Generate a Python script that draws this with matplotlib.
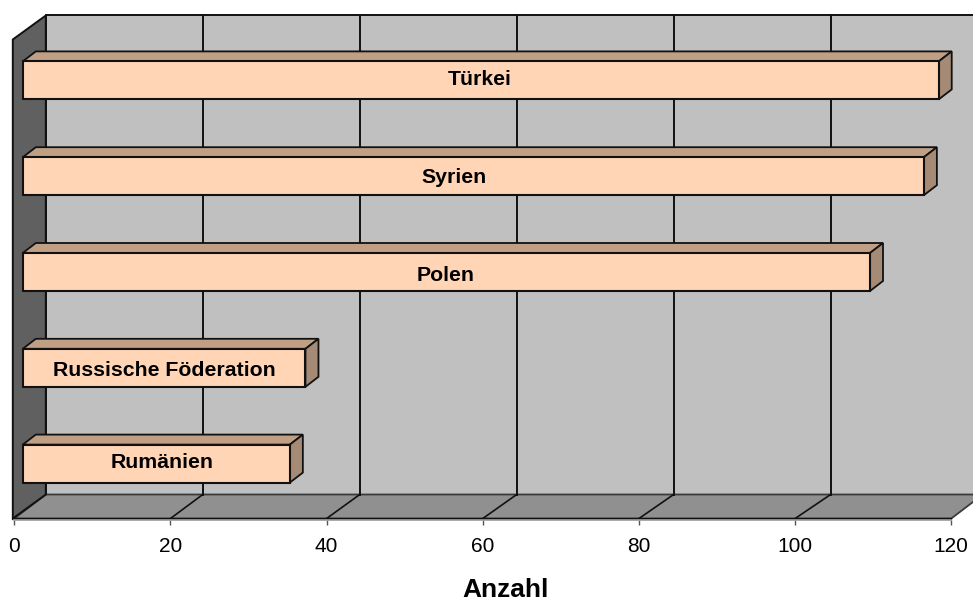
import matplotlib
matplotlib.use('Agg')
from matplotlib import pyplot as plt
from matplotlib.patches import Polygon
from matplotlib.transforms import offset_copy

#data, top bar first
laender = ['Türkei', 'Syrien', 'Polen', 'Russische Föderation', 'Rumänien']
anzahl = [117.3, 115.4, 108.5, 36.2, 34.2]
label_x = [58.5, 55.2, 54.1, 18.1, 17.85]
label_y = [0.053, 1.076, 2.089, 3.081, 4.051]
ticks = [0, 20, 40, 60, 80, 100, 120]

plt.rcParams['font.family'] = ['Liberation Sans', 'DejaVu Sans']

fig = plt.figure(figsize=(9.73, 6.01), dpi=100)
#front plane of the fake 3d box, 14..951 px across and 39..518 px down
ax = fig.add_axes([14.3/973, 1-518.5/601, 937/973, 479/601])
ax.set_xlim(0, 120)
ax.set_ylim(4.5, -0.5)
ax.patch.set_visible(False)

#px per data unit
px_x = 937/120
px_y = 479/5

#depth of the box
wx = 31.5/px_x
wy = 24/px_y
#back plane is a little wider than the front one
stretch = 157/156.2
lip = 1.5/px_x
edge = '#111111'

#back wall, left wall, floor
ax.add_patch(Polygon([(wx, -0.5-wy), (120+wx+3, -0.5-wy), (120+wx+3, 4.5-wy), (wx, 4.5-wy)],
                     fc='#c0c0c0', ec=edge, lw=1.4, clip_on=False, zorder=1))
ax.add_patch(Polygon([(120, 4.5), (120+wx, 4.5-wy), (wx, 4.5-wy), (0, 4.5)],
                     fc='#909090', ec='#3a3a3a', lw=1.3, clip_on=False, zorder=1.2))
ax.add_patch(Polygon([(-lip, -0.5), (wx, -0.5-wy), (wx, 4.5-wy), (-lip, 4.5)],
                     fc='#606060', ec=edge, lw=1.4, clip_on=False, zorder=1.4))
ax.plot([-lip, 120], [4.5, 4.5], color=edge, lw=1.6, clip_on=False, zorder=1.5)

#grid on wall and floor
for t in ticks[1:-1]:
    ax.plot([wx+t*stretch, wx+t*stretch], [-0.5-wy, 4.5-wy], color=edge, lw=1.4, clip_on=False, zorder=1.6)
    ax.plot([t, wx+t*stretch], [4.5, 4.5-wy], color=edge, lw=1.2, clip_on=False, zorder=1.6)

#bars stand 8.5 px in and 7 px up from the front plane
front = offset_copy(ax.transData, fig=fig, x=8.5, y=7, units='dots')
h = 38/px_y
bx = 13/px_x
by = 10/px_y
for i in range(len(anzahl)):
    v = anzahl[i]
    #top and side faces
    ax.add_patch(Polygon([(0, i-h/2), (bx, i-h/2-by), (v+bx, i-h/2-by), (v, i-h/2)],
                         fc='#c0a085', ec=edge, lw=1.3, transform=front, clip_on=False, zorder=3))
    ax.add_patch(Polygon([(v, i-h/2), (v+bx, i-h/2-by), (v+bx, i+h/2-by), (v, i+h/2)],
                         fc='#a58a75', ec=edge, lw=1.3, transform=front, clip_on=False, zorder=3))
ax.barh(range(len(anzahl)), anzahl, height=h, color='#ffd5b5', edgecolor=edge, linewidth=1.5,
        transform=front, clip_on=False, zorder=4)

for i in range(len(laender)):
    ax.text(label_x[i], label_y[i], laender[i], ha='center', va='baseline', fontsize=15.3,
            fontweight='bold', color='black', transform=front, zorder=5)

#axes
for s in ['top', 'right', 'left']:
    ax.spines[s].set_visible(False)
ax.spines['bottom'].set_position(('outward', 1))
ax.spines['bottom'].set_color('#a0a0a0')
ax.spines['bottom'].set_linewidth(1.2)
ax.set_yticks([])
ax.set_xticks(ticks)
ax.tick_params(axis='x', length=3.5, width=1, color='#555555', labelsize=15, pad=9)
ax.set_xlabel('Anzahl', fontsize=19, fontweight='bold')
ax.xaxis.set_label_coords((506-14.3)/937, -0.124)

plt.savefig('out.png', dpi=100)
